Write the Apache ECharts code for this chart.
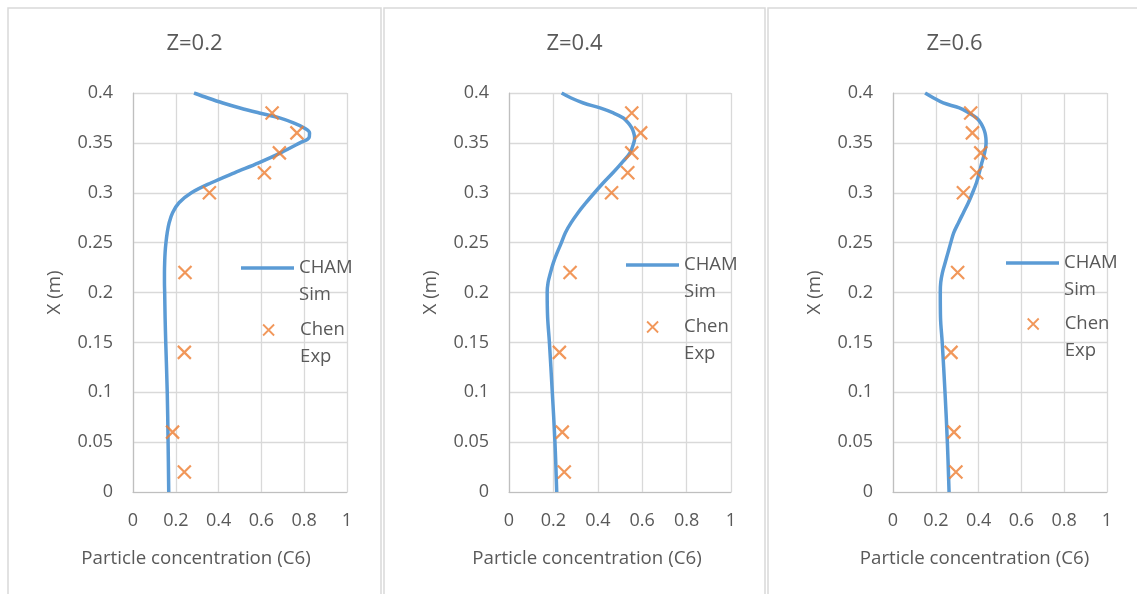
<!DOCTYPE html>
<html>
<head>
<meta charset="utf-8">
<script src="https://cdn.jsdelivr.net/npm/echarts@6/dist/echarts.min.js"></script>
<style>
html,body{margin:0;padding:0;background:#ffffff;}
#chart{width:1137px;height:594px;}
</style>
</head>
<body>
<div id="chart"></div>
<script>
// ---------------- data ----------------
const panelTitles = ['Z=0.2', 'Z=0.4', 'Z=0.6'];
const xAxisTitle = 'Particle concentration (C6)';
const yAxisTitle = 'X (m)';
const simName = 'CHAM Sim';
const expName = 'Chen Exp';

// Simulated curve: height X (m) and concentration per panel
const simX = [0, 0.05, 0.1, 0.15, 0.175, 0.2, 0.21, 0.22, 0.23, 0.24, 0.25, 0.26, 0.27, 0.28, 0.29, 0.30, 0.31, 0.32, 0.33, 0.34, 0.35, 0.355, 0.36, 0.365, 0.37, 0.375, 0.38, 0.385, 0.39, 0.395, 0.4];
const simZ02 = [0.167, 0.164, 0.160, 0.153, 0.150, 0.148, 0.147, 0.147, 0.148, 0.150, 0.154, 0.160, 0.169, 0.185, 0.215, 0.273, 0.366, 0.474, 0.587, 0.690, 0.780, 0.822, 0.825, 0.800, 0.750, 0.685, 0.590, 0.500, 0.420, 0.350, 0.285];
const simZ04 = [0.215, 0.207, 0.195, 0.182, 0.174, 0.172, 0.176, 0.187, 0.200, 0.217, 0.236, 0.254, 0.280, 0.311, 0.347, 0.385, 0.425, 0.468, 0.508, 0.545, 0.562, 0.566, 0.562, 0.553, 0.537, 0.515, 0.470, 0.410, 0.335, 0.280, 0.237];
const simZ06 = [0.262, 0.254, 0.243, 0.230, 0.222, 0.221, 0.223, 0.231, 0.244, 0.257, 0.270, 0.284, 0.306, 0.329, 0.352, 0.372, 0.390, 0.403, 0.415, 0.428, 0.435, 0.434, 0.430, 0.422, 0.410, 0.390, 0.355, 0.310, 0.235, 0.190, 0.150];

// Experimental points: height X (m) and concentration per panel
const expX = [0.02, 0.06, 0.14, 0.22, 0.30, 0.32, 0.34, 0.36, 0.38];
const expZ02 = [0.240, 0.185, 0.240, 0.243, 0.357, 0.614, 0.684, 0.766, 0.650];
const expZ04 = [0.249, 0.240, 0.227, 0.275, 0.462, 0.535, 0.553, 0.593, 0.553];
const expZ06 = [0.294, 0.285, 0.271, 0.302, 0.329, 0.391, 0.410, 0.371, 0.363];

const simSets = [simZ02, simZ04, simZ06];
const expSets = [expZ02, expZ04, expZ06];

// ---------------- layout / style ----------------
const FONT = 'Open Sans';
const TXT = '#595959';
const panels = [
  { frameX: 8,   frameW: 373, gridL: 133, gridW: 214, center: 194.5, xNameShift: 44, lineLeg: [241, 268],  expLeg: [267.7, 330] },
  { frameX: 384, frameW: 381, gridL: 509, gridW: 222, center: 574.5, xNameShift: 33, lineLeg: [626, 265],  expLeg: [651.7, 327] },
  { frameX: 768, frameW: 380, gridL: 893, gridW: 214, center: 954.5, xNameShift: 25.5, lineLeg: [1006, 263], expLeg: [1032.3, 324] }
];
const GRID_TOP = 93, GRID_H = 399;
const X_PATH = 'path://M0,0L10,10M10,0L0,10';

const chart = echarts.init(document.getElementById('chart'), null, { renderer: 'canvas' });

const option = {
  backgroundColor: '#ffffff',
  animation: false,
  textStyle: { fontFamily: FONT },
  title: [],
  legend: [],
  grid: [],
  xAxis: [],
  yAxis: [],
  series: [],
  graphic: []
};

// legend label: blank first line so that the first word sits level with the icon
const legendLabel = n => '\u00a0\n' + n.replace(' ', '\n');

panels.forEach((p, i) => {
  option.graphic.push({
    type: 'rect', silent: true, z: -10,
    shape: { x: p.frameX, y: 8, width: p.frameW, height: 700 },
    style: { fill: '#ffffff', stroke: '#D9D9D9', lineWidth: 1.5 }
  });
  option.title.push({
    text: panelTitles[i],
    left: p.center, top: 33, padding: 0, textAlign: 'center',
    textStyle: { fontFamily: FONT, fontSize: 22, fontWeight: 'normal', color: TXT }
  });
  option.grid.push({ left: p.gridL, width: p.gridW, top: GRID_TOP, height: GRID_H, outerBoundsMode: 'none' });
  option.xAxis.push({
    type: 'value', gridIndex: i, min: 0, max: 1, interval: 0.2,
    name: xAxisTitle, nameLocation: 'middle', nameGap: 57,
    nameTextStyle: { fontFamily: FONT, fontSize: 18.7, color: TXT, padding: [0, p.xNameShift * 2, 0, 0] },
    axisLine: { show: true, lineStyle: { color: '#BFBFBF', width: 1.2 } },
    axisTick: { show: false },
    axisLabel: { margin: 20, fontFamily: FONT, fontSize: 18, color: TXT },
    splitLine: { show: true, lineStyle: { color: '#D9D9D9', width: 1.3 } }
  });
  option.yAxis.push({
    type: 'value', gridIndex: i, min: 0, max: 0.4, interval: 0.05,
    name: yAxisTitle, nameLocation: 'middle', nameGap: 69, nameRotate: 90,
    nameTextStyle: { fontFamily: FONT, fontSize: 18.7, color: TXT },
    axisLine: { show: true, lineStyle: { color: '#BFBFBF', width: 1.2 } },
    axisTick: { show: false },
    axisLabel: { margin: 20, fontFamily: FONT, fontSize: 18, color: TXT },
    splitLine: { show: true, lineStyle: { color: '#D9D9D9', width: 1.3 } }
  });
  option.series.push({
    name: simName, type: 'line', xAxisIndex: i, yAxisIndex: i,
    data: simX.map((x, k) => [simSets[i][k], x]),
    smooth: 0.35, showSymbol: false, symbol: 'none',
    lineStyle: { color: '#5B9BD5', width: 3.5 },
    itemStyle: { color: '#5B9BD5' },
    z: 2
  });
  option.series.push({
    name: expName, type: 'scatter', xAxisIndex: i, yAxisIndex: i,
    data: expX.map((x, k) => [expSets[i][k], x]),
    symbol: X_PATH, symbolSize: 13,
    itemStyle: { color: '#ED7D31', borderColor: '#ED7D31', borderWidth: 2.2 },
    z: 3
  });
  const legText = { fontFamily: FONT, fontSize: 18.5, color: TXT, lineHeight: 27 };
  option.legend.push({
    data: [{ name: simName, icon: 'rect' }],
    orient: 'vertical', left: p.lineLeg[0], top: p.lineLeg[1] - 40.5, padding: 0,
    itemWidth: 53, itemHeight: 3.5, selectedMode: false,
    formatter: legendLabel,
    itemStyle: { color: '#5B9BD5', borderWidth: 0 },
    textStyle: legText
  });
  option.legend.push({
    data: [{ name: expName, icon: X_PATH }],
    orient: 'vertical', left: p.expLeg[0] - 5.5, top: p.expLeg[1] - 40.5, padding: 0,
    itemWidth: 11, itemHeight: 11, selectedMode: false,
    formatter: legendLabel,
    itemStyle: { color: '#ED7D31', borderColor: '#ED7D31', borderWidth: 1.8 },
    textStyle: Object.assign({}, legText, { padding: [0, 0, 0, 21] })
  });
});

chart.setOption(option);
</script>
</body>
</html>
